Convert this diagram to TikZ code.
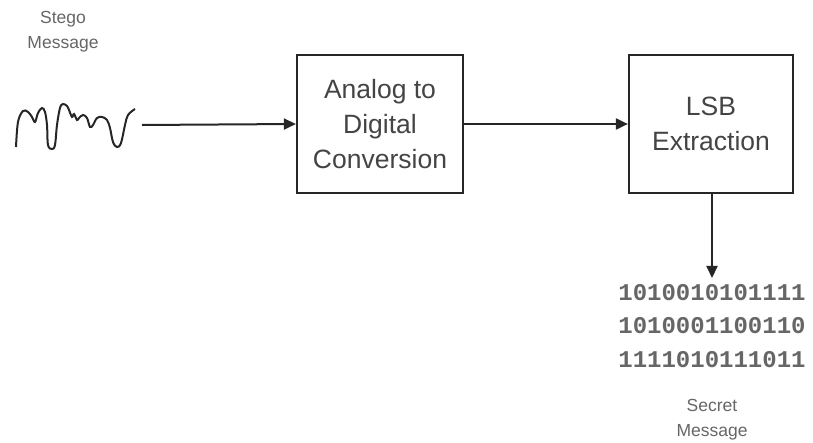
\documentclass[tikz,border=0pt]{standalone}
\usepackage{fontspec}
\setmainfont{Liberation Sans}
\newfontfamily\binfont{Liberation Mono}
\usetikzlibrary{arrows.meta}
\definecolor{linec}{HTML}{262626}
\definecolor{txtc}{HTML}{444444}
\definecolor{lblc}{HTML}{666666}
\tikzset{
  blockbox/.style={draw=linec, line width=2.2pt, minimum width=166pt, minimum height=138pt, inner sep=0pt, align=center, text=txtc, font=\fontsize{26.5}{35}\selectfont},
  flow/.style={draw=linec, line width=2pt, -{Triangle[length=12pt,width=11pt]}},
  lbl/.style={align=center, text=lblc, font=\fontsize{17.5}{25}\selectfont, inner sep=0pt},
  bits/.style={align=center, text=lblc, font=\binfont\bfseries\fontsize{24}{33.5}\selectfont, inner sep=0pt}
}
\begin{document}
\begin{tikzpicture}[x=1pt,y=-1pt]
\useasboundingbox (0,0) rectangle (813,443);
\node[lbl] (stego) at (63,32) {Stego\\Message};
\draw[linec, line width=2pt] plot[smooth, tension=0.6] coordinates {
 (16,147) (18,122) (23,111) (28,112) (32,117) (35,122) (38,113) (42,108) (45,112) (47,125)
 (48,145) (52,149) (55,145) (57,125) (60,108) (63,104) (67,106) (69,110) (72,117) (74,114)
 (77,120) (79,118) (83,115) (87,118) (90,127) (93,125) (97,118) (102,117) (107,120) (110,128)
 (113,142) (117,147) (121,143) (125,125) (128,115) (135,109)};
\coordinate (w) at (142,125);
\node[blockbox] (adc) at (380,124) {Analog to\\Digital\\Conversion};
\node[blockbox, minimum width=164pt] (lsb) at (711,124) {LSB\\Extraction};
\coordinate (bt) at (712,278);
\node[bits] (bin) at (712,326) {1010010101111\\1010001100110\\1111010111011};
\node[lbl] (secret) at (712,420) {Secret\\Message};
\draw[flow] (w) -- (adc.west);
\draw[flow] (adc.east) -- (lsb.west);
\draw[flow] (lsb.south -| bt) -- (bt);
\end{tikzpicture}
\end{document}
